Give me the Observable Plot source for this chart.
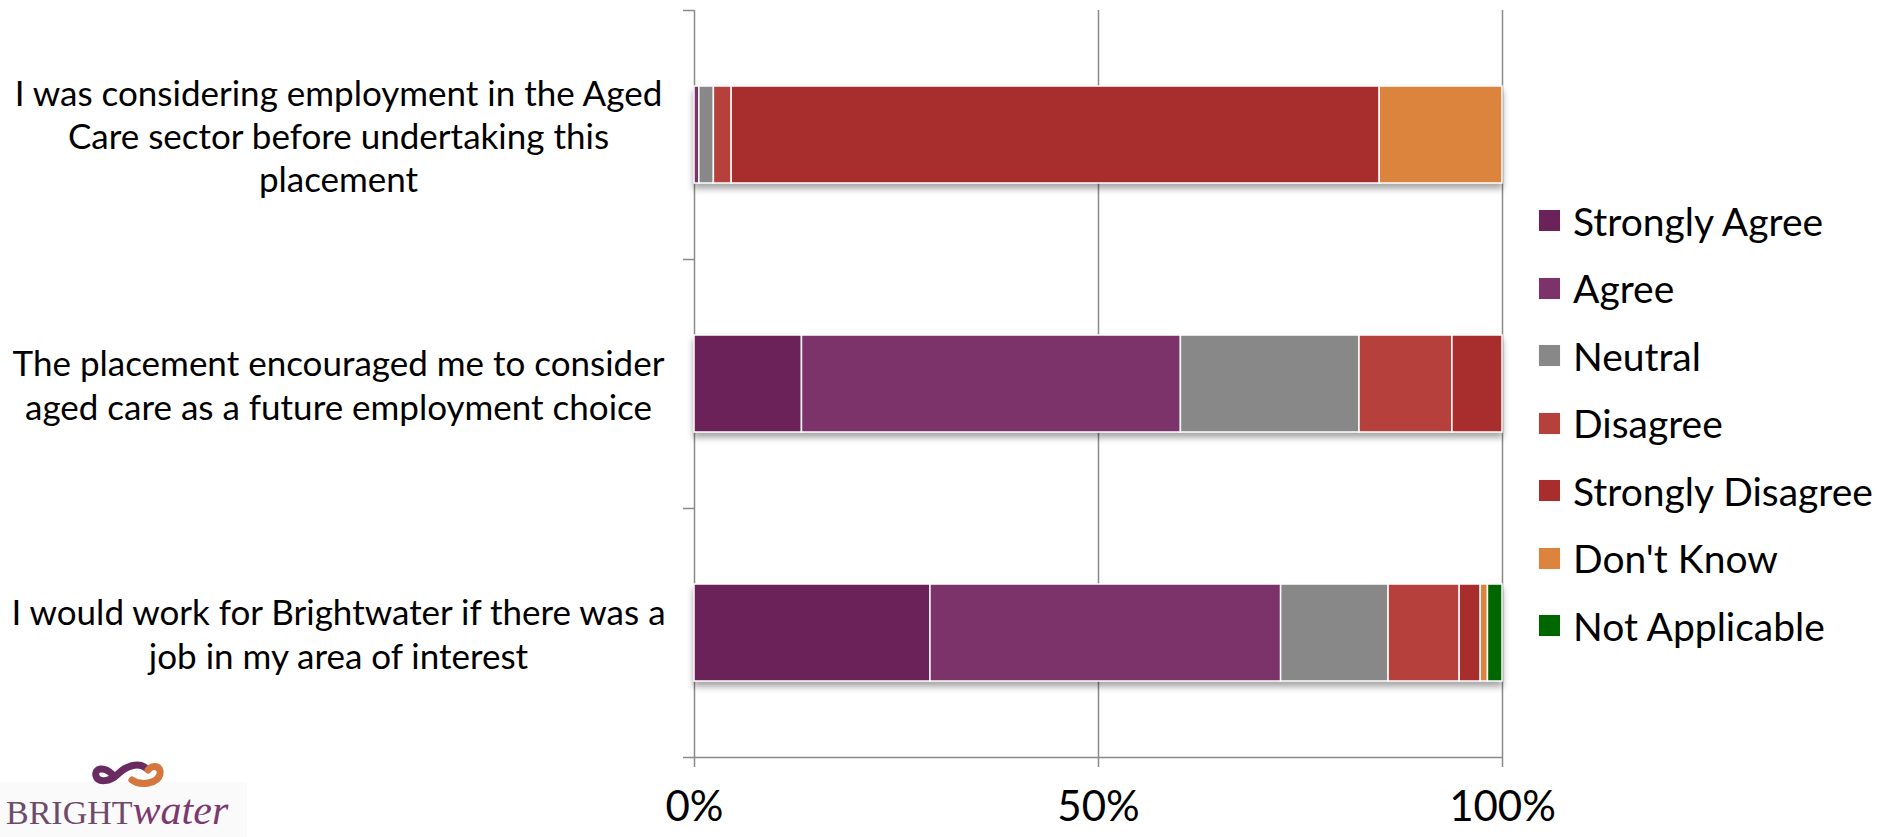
<!DOCTYPE html>
<html>
<head>
<meta charset="utf-8">
<script src="https://cdn.jsdelivr.net/npm/d3@7"></script>
<script src="https://cdn.jsdelivr.net/npm/@observablehq/plot@0.6"></script>
<style>
  html, body { margin: 0; padding: 0; background: #fff; }
  #wrap { position: relative; width: 1879px; height: 837px; overflow: hidden; }
  #chart svg g[aria-label="rect"] { filter: drop-shadow(0px 5px 3px rgba(0,0,0,0.35)); }
  #legend { position: absolute; left: 1539px; top: 187px; font-family: Lato, sans-serif; font-size: 39px; color: #000; }
  #legend .row { height: 67.5px; display: flex; align-items: center; white-space: nowrap; }
  #legend .sw { width: 21px; height: 21px; margin-right: 13px; box-shadow: 0 0 1px rgba(0,0,0,0.15); }
  #logo { position: absolute; left: 0; top: 760px; width: 250px; height: 77px; }
</style>
</head>
<body>
<div id="wrap">
  <div id="chart"></div>
  <div id="legend"></div>
  <div id="logo">
    <svg width="250" height="77" viewBox="0 0 250 77">
      <rect x="0" y="22" width="247" height="55" fill="#fbfafb"/>
      <path d="M112,14 C104,6 94,8 96,16 C98,23 110,22 118,14 C126,6 138,2 146,8" fill="none" stroke="#6a2a62" stroke-width="7" stroke-linecap="round"/>
      <path d="M132,20 C140,26 158,24 160,14 C162,6 152,4 148,10" fill="none" stroke="#d4763e" stroke-width="7" stroke-linecap="round"/>
      <text x="6" y="64" font-family="Liberation Serif, serif" font-size="34" fill="#6e4a6b">BRIGHT<tspan font-style="italic" font-size="42" fill="#7a3a70">water</tspan></text>
    </svg>
  </div>
</div>
<script>
// ---- data ----
const questions = [
  "I was considering employment in the Aged\nCare sector before undertaking this\nplacement",
  "The placement encouraged me to consider\naged care as a future employment choice",
  "I would work for Brightwater if there was a\njob in my area of interest"
];
const responses = ["Strongly Agree", "Agree", "Neutral", "Disagree", "Strongly Disagree", "Don't Know", "Not Applicable"];
const colors = ["#6a2258", "#7b3369", "#888888", "#b6403c", "#a82d2d", "#dc843e", "#006600"];
// percentages per question, in the order of `responses`
const q1Values = [0, 0.6, 1.8, 2.2, 80.2, 15.2, 0];
const q2Values = [13.3, 46.9, 22.1, 11.5, 6.2, 0, 0];
const q3Values = [29.2, 43.4, 13.3, 8.8, 2.6, 0.9, 1.8];
const xTicks = [0, 50, 100];

const allValues = [q1Values, q2Values, q3Values];
const rows = [];
allValues.forEach((vals, qi) => {
  vals.forEach((v, ri) => {
    if (v > 0) rows.push({qi, question: questions[qi], response: responses[ri], value: v});
  });
});

const chart = Plot.plot({
  width: 1879,
  height: 837,
  marginLeft: 694,
  marginRight: 377,
  marginTop: 10,
  marginBottom: 80,
  x: {domain: [0, 100], axis: null},
  y: {domain: [0, 3], reverse: true, axis: null},
  color: {domain: responses, range: colors},
  marks: [
    Plot.ruleX(xTicks, {stroke: "#8a8a8a", strokeWidth: 1.5}),
    Plot.ruleY([3], {stroke: "#8a8a8a", strokeWidth: 1.5}),
    Plot.axisY([0, 1, 2, 3], {tickSize: 11, tickFormat: () => "", label: null, stroke: "#8a8a8a", strokeWidth: 1.5}),
    Plot.axisX(xTicks, {
      tickSize: 10, tickPadding: 24, stroke: "#8a8a8a", strokeWidth: 1.5, label: null,
      tickFormat: d => d + "%", fill: "#000",
      fontFamily: "Lato", fontSize: 42
    }),
    Plot.rectX(rows, {
      x: "value", y1: "qi", y2: d => d.qi + 1, fill: "response",
      stroke: "white", strokeWidth: 1.5, insetTop: 76, insetBottom: 76
    }),
    Plot.text(questions, {
      y: (d, i) => i + 0.5, frameAnchor: "left", dx: -356,
      textAnchor: "middle", lineAnchor: "middle", lineHeight: 1.24,
      fontFamily: "Lato", fontSize: 35, fill: "#000"
    })
  ]
});
document.getElementById("chart").appendChild(chart);

// legend
const leg = document.getElementById("legend");
responses.forEach((r, i) => {
  const row = document.createElement("div");
  row.className = "row";
  const sw = document.createElement("div");
  sw.className = "sw";
  sw.style.background = colors[i];
  const t = document.createElement("span");
  t.textContent = r;
  row.appendChild(sw); row.appendChild(t);
  leg.appendChild(row);
});
</script>
</body>
</html>
